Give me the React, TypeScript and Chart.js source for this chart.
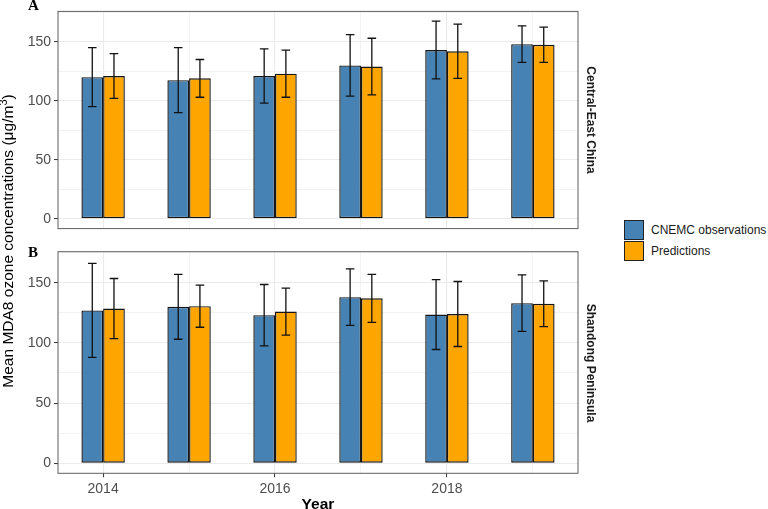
import React, { useEffect, useRef } from 'react';
import { Chart, registerables } from 'chart.js';

Chart.register(...registerables);

// ---------- data ----------
const years = [2014, 2015, 2016, 2017, 2018, 2019];
const xTickLabels = ['2014', '', '2016', '', '2018', ''];
const yTickValues = [0, 25, 50, 75, 100, 125, 150, 175];
const yTickLabels = ['0', '', '50', '', '100', '', '150', ''];

// Panel A: Central-East China
const ceObs = [120, 117.5, 121, 130, 143, 148];
const ceObsSd = [25, 27.5, 23, 26, 24.5, 15.5];
const cePred = [121, 119, 123, 129, 142, 147.5];
const cePredSd = [19, 16, 20, 24, 23, 15];

// Panel B: Shandong Peninsula
const sdObs = [127, 130, 123, 138, 123.5, 133];
const sdObsSd = [39, 27, 25.5, 23.5, 29, 23.5];
const sdPred = [128.5, 130.5, 126, 137, 124, 132.5];
const sdPredSd = [25, 17.5, 19.5, 20, 27, 19];

const seriesNames = ['CNEMC observations', 'Predictions'];
const seriesColors = ['#4682B4', '#FFA500'];
const stripLabels = ['Central-East China', 'Shandong Peninsula'];
const panelTags = ['A', 'B'];
const yTitle = 'Mean MDA8 ozone concentrations (';
const xTitle = 'Year';

const SANS = "'Liberation Sans', Arial, Helvetica, sans-serif";
const Y_MIN = -8.37;
const Y_MAX = 175.77;
const X_MIN = 2013.475;
const X_MAX = 2019.525;

const errorBarPlugin = {
  id: 'errorBars',
  afterDatasetsDraw(chart: any) {
    const { ctx } = chart;
    const xs = chart.scales.x;
    const ys = chart.scales.y;
    const half = (xs.getPixelForValue(years[1]) - xs.getPixelForValue(years[0])) * 0.05;
    ctx.save();
    ctx.strokeStyle = '#111111';
    ctx.lineWidth = 1.3;
    chart.data.datasets.forEach((ds: any, i: number) => {
      const meta = chart.getDatasetMeta(i);
      meta.data.forEach((el: any, j: number) => {
        const m = ds.data[j].y;
        const e = ds.errors[j];
        const top = ys.getPixelForValue(m + e);
        const bot = ys.getPixelForValue(m - e);
        const x = el.x;
        ctx.beginPath();
        ctx.moveTo(x, top);
        ctx.lineTo(x, bot);
        ctx.moveTo(x - half, top);
        ctx.lineTo(x + half, top);
        ctx.moveTo(x - half, bot);
        ctx.lineTo(x + half, bot);
        ctx.stroke();
      });
    });
    ctx.restore();
  },
  afterDraw(chart: any) {
    const { ctx, chartArea } = chart;
    ctx.save();
    ctx.strokeStyle = '#5f5f5f';
    ctx.lineWidth = 1;
    ctx.strokeRect(chartArea.left, chartArea.top, chartArea.right - chartArea.left, chartArea.bottom - chartArea.top);
    ctx.restore();
  },
};

function makeConfig(obs: number[], obsSd: number[], pred: number[], predSd: number[], bottom: boolean, padTop: number, padBottom: number): any {
  const barCommon = {
    borderColor: '#151515',
    borderWidth: 1.4,
    borderSkipped: false,
    categoryPercentage: 0.505,
    barPercentage: 1,
  };
  return {
    type: 'bar',
    data: {
      datasets: [
        {
          label: seriesNames[0],
          data: years.map((y, i) => ({ x: y, y: obs[i] })),
          errors: obsSd,
          backgroundColor: seriesColors[0],
          ...barCommon,
        },
        {
          label: seriesNames[1],
          data: years.map((y, i) => ({ x: y, y: pred[i] })),
          errors: predSd,
          backgroundColor: seriesColors[1],
          ...barCommon,
        },
      ],
    },
    options: {
      animation: false,
      responsive: false,
      maintainAspectRatio: false,
      devicePixelRatio: 1,
      layout: { padding: { left: 0, right: 22, top: padTop, bottom: padBottom } },
      plugins: { legend: { display: false }, tooltip: { enabled: false } },
      scales: {
        x: {
          type: 'linear',
          min: X_MIN,
          max: X_MAX,
          offset: false,
          afterBuildTicks: (s: any) => {
            s.ticks = years.map((v) => ({ value: v }));
          },
          afterFit: (s: any) => {
            s.height = bottom ? 24 : 0;
          },
          ticks: {
            display: bottom,
            autoSkip: false,
            maxRotation: 0,
            padding: 3,
            color: '#4D4D4D',
            font: { family: SANS, size: 14 },
            callback: (_v: any, i: number) => xTickLabels[i],
          },
          grid: {
            offset: false,
            color: '#EBEBEB',
            lineWidth: (c: any) => (xTickLabels[c.index] ? 1.1 : 0.6),
            drawTicks: bottom,
            tickLength: 4,
            tickWidth: 1,
            tickColor: (c: any) => (xTickLabels[c.index] ? '#333333' : 'rgba(0,0,0,0)'),
          },
          border: { display: false },
        },
        y: {
          type: 'linear',
          min: Y_MIN,
          max: Y_MAX,
          afterBuildTicks: (s: any) => {
            s.ticks = yTickValues.map((v) => ({ value: v }));
          },
          afterFit: (s: any) => {
            s.width = 58;
          },
          ticks: {
            padding: 3,
            autoSkip: false,
            color: '#4D4D4D',
            font: { family: SANS, size: 14 },
            callback: (_v: any, i: number) => yTickLabels[i],
          },
          grid: {
            offset: false,
            color: '#EBEBEB',
            lineWidth: (c: any) => (yTickLabels[c.index] ? 1.1 : 0.6),
            tickLength: 4,
            tickWidth: 1,
            tickColor: (c: any) => (yTickLabels[c.index] ? '#333333' : 'rgba(0,0,0,0)'),
          },
          border: { display: false },
        },
      },
    },
    plugins: [errorBarPlugin],
  };
}

function Panel(props: { top: number; height: number; config: any }) {
  const ref = useRef<HTMLCanvasElement>(null);
  useEffect(() => {
    const chart = new Chart(ref.current as HTMLCanvasElement, props.config);
    return () => chart.destroy();
  }, []);
  return (
    <canvas
      ref={ref}
      width={600}
      height={props.height}
      style={{ position: 'absolute', left: 0, top: props.top, width: 600, height: props.height }}
    />
  );
}

export default function App() {
  const configA = makeConfig(ceObs, ceObsSd, cePred, cePredSd, false, 9.5, 9);
  const configB = makeConfig(sdObs, sdObsSd, sdPred, sdPredSd, true, 11.7, 11.7);
  const stripStyle: React.CSSProperties = {
    position: 'absolute',
    transform: 'translate(-50%, -50%)',
    writingMode: 'vertical-rl',
    fontFamily: SANS,
    fontWeight: 'bold',
    fontSize: 12,
    lineHeight: '12px',
    color: '#1a1a1a',
    whiteSpace: 'nowrap',
  };
  const tagStyle: React.CSSProperties = {
    position: 'absolute',
    fontFamily: "'Liberation Serif', 'Times New Roman', serif",
    fontWeight: 'bold',
    fontSize: 15,
    lineHeight: '15px',
    color: '#000',
  };
  const legendText: React.CSSProperties = {
    position: 'absolute',
    left: 651,
    fontFamily: SANS,
    fontSize: 12,
    lineHeight: '14px',
    color: '#1a1a1a',
    whiteSpace: 'nowrap',
  };
  return (
    <div style={{ position: 'absolute', left: 0, top: 0, width: 768, height: 509, background: '#fff', overflow: 'hidden' }}>
      <Panel top={0} height={240} config={configA} />
      <Panel top={240} height={269} config={configB} />
      <div style={{ ...tagStyle, left: 28, top: -2.5 }}>{panelTags[0]}</div>
      <div style={{ ...tagStyle, left: 28, top: 245 }}>{panelTags[1]}</div>
      <div style={{ ...stripStyle, left: 591, top: 120.3 }}>{stripLabels[0]}</div>
      <div style={{ ...stripStyle, left: 591, top: 362.5 }}>{stripLabels[1]}</div>
      <div
        style={{
          position: 'absolute',
          left: 7.5,
          top: 241,
          transform: 'translate(-50%, -50%) rotate(-90deg)',
          fontFamily: SANS,
          fontSize: 15.5,
          lineHeight: '15.5px',
          color: '#000',
          whiteSpace: 'nowrap',
        }}
      >
        {yTitle}μg/m<sup style={{ fontSize: 11, verticalAlign: 'super', lineHeight: 0 }}>3</sup>)
      </div>
      <div
        style={{
          position: 'absolute',
          left: 318,
          top: 496,
          transform: 'translateX(-50%)',
          fontFamily: SANS,
          fontWeight: 'bold',
          fontSize: 15.5,
          lineHeight: '15.5px',
          color: '#000',
          whiteSpace: 'nowrap',
        }}
      >
        {xTitle}
      </div>
      <div style={{ position: 'absolute', left: 623.5, top: 220, width: 20, height: 20, boxSizing: 'border-box', border: '1px solid #222', background: seriesColors[0] }} />
      <div style={{ position: 'absolute', left: 623.5, top: 240.7, width: 20, height: 20, boxSizing: 'border-box', border: '1px solid #222', background: seriesColors[1] }} />
      <div style={{ ...legendText, top: 223 }}>{seriesNames[0]}</div>
      <div style={{ ...legendText, top: 244 }}>{seriesNames[1]}</div>
    </div>
  );
}
